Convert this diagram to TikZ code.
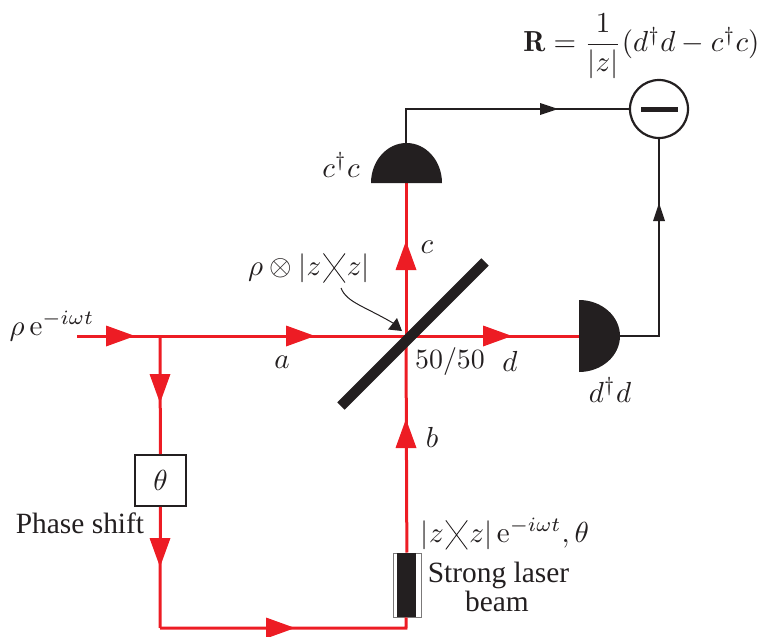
\documentclass[tikz,border=0pt]{standalone}
\usepackage{amsmath}
\usepackage{fontspec}
\newfontfamily\tms{Liberation Serif}
\usetikzlibrary{decorations.markings,arrows.meta}
\definecolor{beam}{RGB}{237,28,36}
\definecolor{ink}{RGB}{35,31,32}
\newcommand{\crossbk}{\tikz[baseline=0pt,x=1pt,y=1pt]{\draw[ink,line width=.3pt] (0,-2.5) -- (7.4,7.5) (0,7.5) -- (7.4,-2.5);}}
\newcommand{\kz}{|z\mkern1mu\crossbk\mkern1mu z|}
\tikzset{
  lab/.style={inner sep=0pt,text=ink,scale=1.45},
  txt/.style={inner sep=0pt,text=ink,scale=1.47,font=\tms},
  beamline/.style={draw=beam,line width=1.5pt},
  wire/.style={draw=ink,line width=.65pt},
  redtip/.style={postaction={decorate},decoration={markings,mark=at position #1 with {\fill[beam] (-29,-10.5) -- (0,0) -- (-29,10.5) -- cycle;}}},
  blacktip/.style={postaction={decorate},decoration={markings,mark=at position #1 with {\fill[ink] (-18,-6) -- (0,0) -- (-18,6) -- cycle;}}},
}
\begin{document}
\begin{tikzpicture}[x=.5pt,y=-.5pt]
\useasboundingbox (0,0) rectangle (762,637);
% junctions
\coordinate (in) at (77,336);
\coordinate (split) at (160,336);
\coordinate (cross) at (406,336);
\coordinate (corner) at (160,628);
\coordinate (up) at (406,628);
\coordinate (cfoot) at (406,183);
\coordinate (dfoot) at (579,336);
\coordinate (ctop) at (406,143);
\coordinate (cturn) at (406,109);
\coordinate (dback) at (620,336);
\coordinate (dturn) at (659,336);
% devices
\node[draw=ink,line width=.6pt,minimum width=17.6pt,minimum height=17.6pt,lab] (phase) at (160.5,480.5) {$\theta$};
\node[draw=ink!60,line width=.5pt,minimum width=14pt,minimum height=32pt,inner sep=0pt] (laser) at (407,585) {};
\fill[ink] (397,553) rectangle (416,617);
\node[circle,draw=ink,line width=1.1pt,minimum size=29pt,inner sep=0pt] (minus) at (659,109) {};
\fill[ink] (641,106.5) rectangle (678,111.5);
% beams
\draw[beamline] (in) -- (split);
\draw[beamline] (split) -- (cross);
\draw[beamline] (cross) -- (dfoot);
\draw[beamline] (split) -- (phase);
\draw[beamline] (phase) -- (corner);
\draw[beamline] (corner) -- (up) -- (laser);
\draw[beamline] (laser) -- (cross);
\draw[beamline] (cross) -- (cfoot);
% red arrowheads
\path[redtip=1] (90,336) -- (135,336);
\path[redtip=1] (160,340) -- (160,403);
\path[redtip=1] (160,510) -- (160,567);
\path[redtip=1] (250,628) -- (295,628);
\path[redtip=1] (250,336) -- (315,336);
\path[redtip=1] (440,336) -- (512,336);
\path[redtip=1] (406,300) -- (406,241);
\path[redtip=1] (406,480) -- (406,419);
% beam splitter
\draw[ink,line width=5.2pt] (341,406) -- (485,262);
% detectors
\fill[ink] (371,183) arc[start angle=180,end angle=360,x radius=35.5,y radius=40] -- cycle;
\fill[ink] (579,300) arc[start angle=-90,end angle=90,x radius=41,y radius=36] -- cycle;
% electrical wires
\draw[wire] (ctop) -- (cturn) -- (minus);
\draw[wire] (dback) -- (dturn) -- (minus);
\path[blacktip=1] (500,109) -- (558,109);
\path[blacktip=1] (659,260) -- (659,203);
% pointer
\coordinate (ptrs) at (341,288);
\coordinate (ptre) at (398,326);
\draw[wire,line width=.5pt] (ptrs) .. controls (347,303) and (365,306) .. (ptre);
\fill[ink] (402,331) -- (388,329.5) -- (397,318) -- cycle;
% labels
\node[lab,anchor=base east] (fml) at (760,52) {$\mathbf{R}=\dfrac{1}{|z|}(d^\dagger d-c^\dagger c)$};
\node[lab] (la) at (282,362) {$a$};
\node[lab] (lc) at (427,247) {$c$};
\node[lab] (ld) at (510,361) {$d$};
\node[lab] (lb) at (432,437) {$b$};
\node[lab,scale=.96] (l5) at (450,362) {50/50};
\node[lab] (lcc) at (341,165) {$c^\dagger c$};
\node[lab] (ldd) at (610,390) {$d^\dagger d$};
\node[lab] (lrho) at (309,268) {$\rho\otimes\kz$};
\node[lab] (lin) at (52,326) {$\rho\,\mathrm{e}^{-i\omega t}$};
\node[txt,anchor=base] (lps) at (80,533) {Phase shift};
\node[lab] (lz) at (505,534) {$\kz\,\mathrm{e}^{-i\omega t},\theta$};
\node[txt,anchor=base] (lsl) at (498.5,582) {Strong laser};
\node[txt,anchor=base] (lbm) at (497,611) {beam};
\end{tikzpicture}
\end{document}
